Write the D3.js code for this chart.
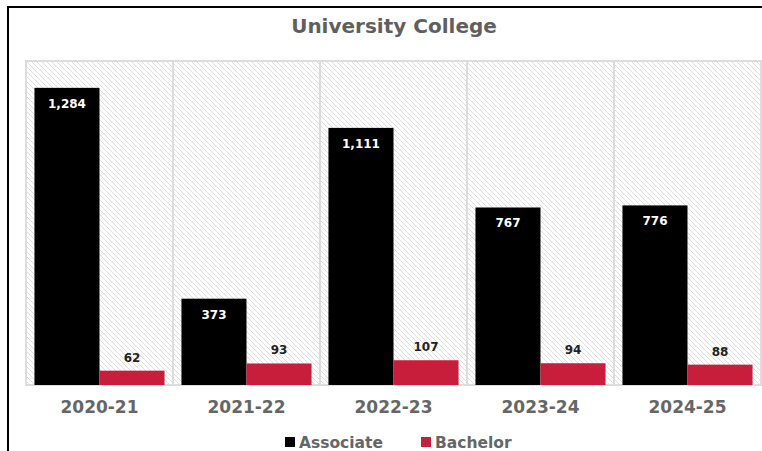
<!DOCTYPE html>
<html><head><meta charset="utf-8">
<script src="https://cdn.jsdelivr.net/npm/d3@7"></script>
<style>body{margin:0;background:#fff}svg{display:block}</style>
</head><body>
<script>
const categories = ["2020-21","2021-22","2022-23","2023-24","2024-25"];
const associate = [1284,373,1111,767,776];
const bachelor = [62,93,107,94,88];
const seriesNames = ["Associate","Bachelor"];
const colors = ["#000000","#c81e3c"];

const W=762,H=451;
const m={left:26,right:1,top:61,bottom:66};
const svg=d3.select("body").append("svg").attr("width",W).attr("height",H);
const defs=svg.append("defs");
const pat=defs.append("pattern").attr("id","hatch").attr("patternUnits","userSpaceOnUse")
  .attr("width",5).attr("height",5);
pat.append("rect").attr("width",5).attr("height",5).attr("fill","#fff");
pat.append("path").attr("d","M-1,-1 L6,6 M-1,4 L1,6 M4,-1 L6,1").attr("stroke","#dedede").attr("stroke-width",1);

// frame
svg.append("line").attr("x1",8).attr("x2",W).attr("y1",7).attr("y2",7).attr("stroke","#000").attr("stroke-width",2);
svg.append("line").attr("x1",8).attr("x2",8).attr("y1",6).attr("y2",H).attr("stroke","#000").attr("stroke-width",2);

svg.append("text").attr("x",394).attr("y",33).attr("text-anchor","middle")
  .attr("font-family","DejaVu Sans").attr("font-weight","bold").attr("font-size",20)
  .attr("fill","#5f5f5f").text("University College");

const x=d3.scaleBand().domain(categories).range([m.left,W-m.right]).paddingInner(0).paddingOuter(0);
const x1=d3.scaleBand().domain(seriesNames).range([0,x.bandwidth()]).paddingOuter(0.13).paddingInner(0);
const y=d3.scaleLinear().domain([0,1400]).range([H-m.bottom,m.top]);

const g=svg.append("g");
g.append("rect").attr("x",m.left).attr("y",m.top).attr("width",W-m.right-m.left).attr("height",H-m.bottom-m.top)
  .attr("fill","url(#hatch)").attr("stroke","#ddd").attr("stroke-width",2);
categories.slice(1).forEach(c=>{
  g.append("line").attr("x1",x(c)).attr("x2",x(c)).attr("y1",m.top).attr("y2",H-m.bottom).attr("stroke","#ddd").attr("stroke-width",2);
});

const data=categories.map((c,i)=>({c,vals:[associate[i],bachelor[i]]}));
const grp=g.selectAll(".grp").data(data).join("g").attr("transform",d=>`translate(${x(d.c)},0)`);
grp.selectAll("rect").data(d=>d.vals.map((v,j)=>({v,s:seriesNames[j],j}))).join("rect")
  .attr("x",d=>x1(d.s)).attr("width",x1.bandwidth()).attr("y",d=>y(d.v)).attr("height",d=>y(0)-y(d.v))
  .attr("fill",d=>colors[d.j]);
grp.selectAll("text").data(d=>d.vals.map((v,j)=>({v,s:seriesNames[j],j}))).join("text")
  .attr("x",d=>x1(d.s)+x1.bandwidth()/2)
  .attr("y",d=>d.j===0? y(d.v)+20 : y(d.v)-9)
  .attr("text-anchor","middle").attr("font-family","DejaVu Sans").attr("font-weight","bold").attr("font-size",12)
  .attr("fill",d=>d.j===0?"#fff":"#222").text(d=>d3.format(",")(d.v));

const ax=svg.append("g").attr("transform",`translate(0,${H-m.bottom})`).call(d3.axisBottom(x).tickSize(0).tickPadding(16));
ax.select(".domain").remove();
ax.selectAll("text").attr("font-family","DejaVu Sans").attr("font-weight","bold").attr("font-size",17).attr("fill","#666");

const leg=svg.append("g");
const legX=[285,421];
seriesNames.forEach((s,i)=>{
  leg.append("rect").attr("x",legX[i]).attr("y",437).attr("width",10).attr("height",10).attr("fill",colors[i]);
  leg.append("text").attr("x",legX[i]+14).attr("y",448).attr("font-family","DejaVu Sans").attr("font-weight","bold")
    .attr("font-size",15.5).attr("fill","#666").text(s);
});
</script>
</body></html>
